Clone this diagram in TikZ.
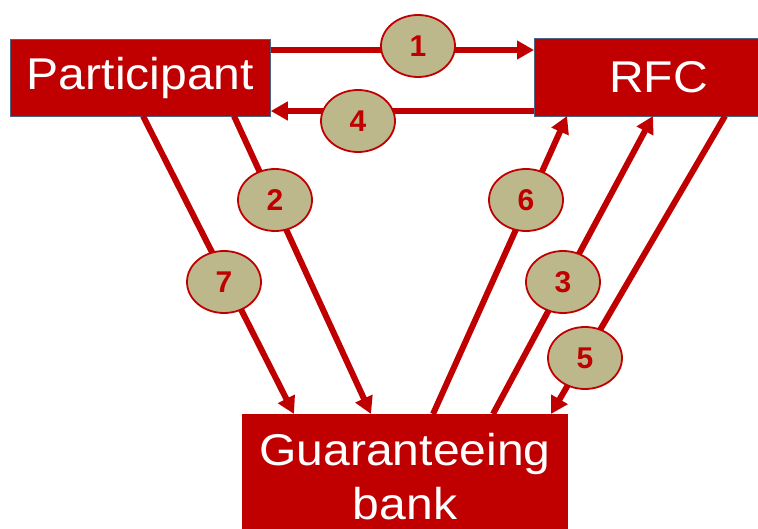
\documentclass[tikz,border=0pt]{standalone}
\usepackage{fontspec}
\setmainfont{Liberation Sans}
\newfontfamily\boxfont[FakeStretch=1.08]{Liberation Sans}
\newfontfamily\numfont{Liberation Sans Bold}
\usetikzlibrary{arrows.meta,shapes.geometric}
\definecolor{boxred}{HTML}{C00000}
\definecolor{ellfill}{HTML}{BDB88C}
\definecolor{edgeblue}{HTML}{4A6484}
\tikzset{
  box/.style={fill=boxred, draw=edgeblue, line width=0.8pt, text=white, inner sep=0pt,
    font=\boxfont\fontsize{44.5}{54}\selectfont},
  flow/.style={draw=boxred, line width=6pt, -{Triangle[length=17pt,width=18pt]}},
  num/.style={ellipse, fill=ellfill, draw=boxred, line width=1.8pt, inner sep=0pt,
    minimum width=74pt, minimum height=62pt, text=boxred,
    font=\numfont\fontsize{30}{30}\selectfont}
}
\begin{document}
\begin{tikzpicture}[x=1pt,y=-1pt]
\useasboundingbox (0,0) rectangle (758,529);
\fill[white] (0,0) rectangle (758,529);
% boxes
\node[box, anchor=north west, minimum width=260pt, minimum height=77pt] (P) at (10,39) {Participant};
\node[box, anchor=north west, minimum width=248pt, minimum height=78pt] (R) at (534,38) {RFC};
\node[box, anchor=north, minimum width=326pt, inner ysep=19pt, align=center, draw=none] (G) at (405,414) {Guaranteeing\\bank};
% connector end points
\coordinate (p1) at (P.north east |- 0,50);
\coordinate (r1) at (R.north west |- 0,50);
\coordinate (r4) at (R.north west |- 0,111);
\coordinate (p4) at (P.north east |- 0,111);
\coordinate (p7) at (143,116);
\coordinate (g7) at (294,414);
\coordinate (p2) at (234,116);
\coordinate (g2) at (371,414);
\coordinate (g6) at (433,414);
\coordinate (r6) at (567,116);
\coordinate (g3) at (493,414);
\coordinate (r3) at (653,116);
\coordinate (r5) at (725,116);
\coordinate (g5) at (551,414);
% connectors
\draw[flow] (p1) -- (r1);
\draw[flow] (r4) -- (p4);
\draw[flow] (p7) -- (g7);
\draw[flow] (p2) -- (g2);
\draw[flow] (g6) -- (r6);
\draw[flow] (g3) -- (r3);
\draw[flow] (r5) -- (g5);
% numbered ellipses
\node[num] (n1) at (418,46) {1};
\node[num] (n4) at (358,121) {4};
\node[num] (n2) at (275,200) {2};
\node[num] (n7) at (224,282) {7};
\node[num] (n6) at (526,200) {6};
\node[num] (n3) at (563,282) {3};
\node[num] (n5) at (585,358) {5};
\end{tikzpicture}
\end{document}
